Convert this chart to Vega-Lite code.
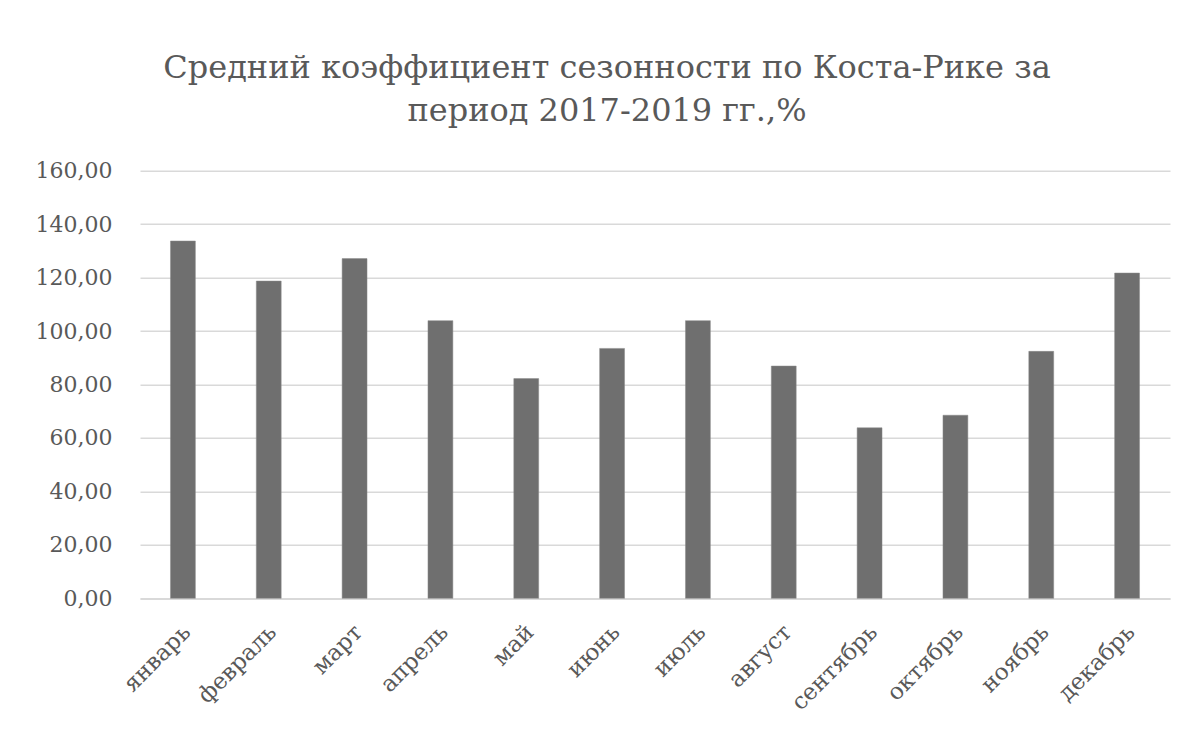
{
  "$schema": "https://vega.github.io/schema/vega-lite/v6.json",
  "autosize": "none",
  "width": 1030,
  "height": 427.6,
  "padding": {"left": 140, "top": 170.7, "right": 23, "bottom": 137},
  "background": "white",
  "title": {
    "text": ["Средний коэффициент сезонности по Коста-Рике за", "период 2017-2019  гг.,%"],
    "font": "DejaVu Serif",
    "fontSize": 32,
    "fontWeight": "normal",
    "color": "#595959",
    "anchor": "middle",
    "dx": -48,
    "lineHeight": 43,
    "offset": 32
  },
  "data": {
    "values": [
      {"month": "январь", "value": 133.7},
      {"month": "февраль", "value": 118.7},
      {"month": "март", "value": 127.1},
      {"month": "апрель", "value": 103.9},
      {"month": "май", "value": 82.2},
      {"month": "июнь", "value": 93.5},
      {"month": "июль", "value": 103.9},
      {"month": "август", "value": 86.9},
      {"month": "сентябрь", "value": 63.8},
      {"month": "октябрь", "value": 68.5},
      {"month": "ноябрь", "value": 92.4},
      {"month": "декабрь", "value": 121.7}
    ]
  },
  "mark": {"type": "bar", "color": "#6f6f6f", "stroke": "#8a8a8a", "strokeWidth": 0.5},
  "encoding": {
    "x": {
      "field": "month",
      "type": "nominal",
      "sort": null,
      "scale": {"paddingInner": 0.71, "paddingOuter": 0.355},
      "axis": {
        "title": null,
        "labelAngle": -45,
        "labelAlign": "right",
        "labelBaseline": "middle",
        "labelFont": "DejaVu Serif",
        "labelFontSize": 23,
        "labelColor": "#595959",
        "labelPadding": 30,
        "labelOffset": 4,
        "ticks": false,
        "domainColor": "#d9d9d9",
        "domainWidth": 1.5,
        "grid": false
      }
    },
    "y": {
      "field": "value",
      "type": "quantitative",
      "scale": {"domain": [0, 160], "nice": false},
      "axis": {
        "title": null,
        "values": [0, 20, 40, 60, 80, 100, 120, 140, 160],
        "labelExpr": "replace(format(datum.value, '.2f'), '.', ',')",
        "labelFont": "DejaVu Serif",
        "labelFontSize": 22,
        "labelColor": "#595959",
        "labelPadding": 28,
        "ticks": false,
        "domain": false,
        "gridColor": "#d9d9d9",
        "gridWidth": 1.5
      }
    }
  },
  "config": {"view": {"stroke": null}}
}
